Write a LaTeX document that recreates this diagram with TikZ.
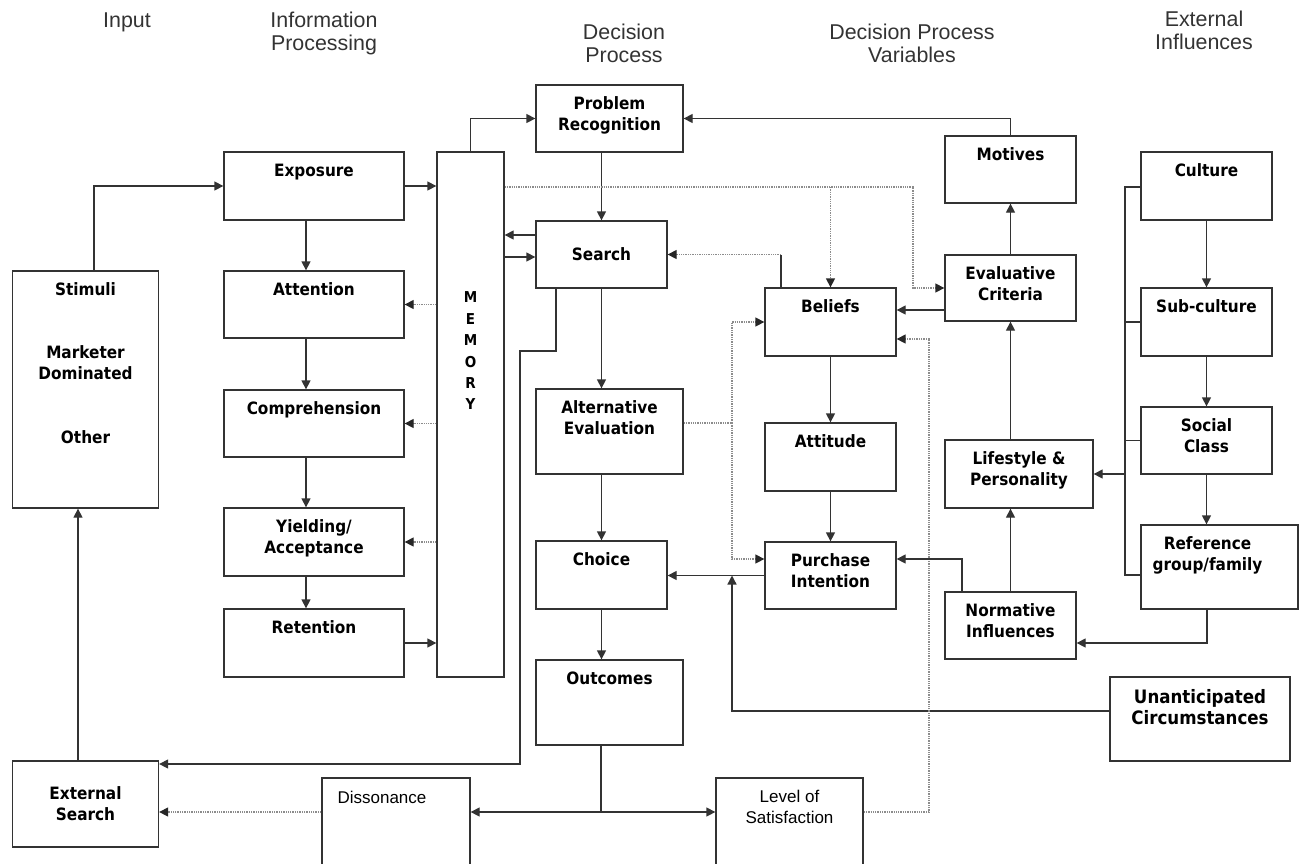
\documentclass[tikz,border=0pt]{standalone}
\usepackage{fontspec}
\setmainfont{Liberation Sans}
\newfontfamily\boxfont[FakeStretch=0.9]{DejaVu Sans}
\usetikzlibrary{arrows.meta}

\begin{document}
\begin{tikzpicture}[x=1pt, y=-1pt,
    blk/.style={draw=black!80, line width=1.3pt, inner sep=0pt},
    bfont/.style={font=\boxfont\bfseries\fontsize{17}{21}\selectfont, align=center},
    lbl/.style={bfont, anchor=north, yshift=-12.5pt, inner sep=0pt},
    thinlbl/.style={lbl, font=\fontsize{17}{21}\selectfont},
    hdr/.style={align=center, inner sep=0pt, text=black!80, font=\fontsize{21.4}{23}\selectfont},
    link/.style={draw=black!80, line width=1.3pt},
    arr/.style={link, -{Triangle[length=9pt, width=9pt]}},
    dlink/.style={draw=black!45, line width=1.3pt, densely dotted},
    darr/.style={dlink, -{Triangle[length=9pt, width=9pt, color=black!85]}}]

  \useasboundingbox (0,0) rectangle (1299,863);

  % column headings
  \node[hdr] (hInput) at (127,22) {Input};
  \node[hdr] (hInfo) at (324,33.5) {Information\\Processing};
  \node[hdr] (hDec) at (624,43.5) {Decision\\Process};
  \node[hdr] (hVar) at (912,43.5) {Decision Process\\Variables};
  \node[hdr] (hExt) at (1204,30.5) {External\\Influences};

  % input
  \node[blk, minimum width=146pt, minimum height=237pt, label={[lbl]north:{Stimuli\\[42pt]Marketer\\Dominated\\[43pt]Other}}] (stim) at (85.5,389.5) {};
  \node[blk, bfont, minimum width=146pt, minimum height=86pt] (ext) at (85.5,804) {External\\Search};

  % information processing
  \node[blk, minimum width=180pt, minimum height=68pt, label={[lbl]north:{Exposure}}] (exp) at (314,186) {};
  \node[blk, minimum width=180pt, minimum height=67pt, label={[lbl]north:{Attention}}] (att) at (314,304.5) {};
  \node[blk, minimum width=180pt, minimum height=67pt, label={[lbl]north:{Comprehension}}] (comp) at (314,423.5) {};
  \node[blk, minimum width=180pt, minimum height=68pt, label={[lbl]north:{Yielding/\\Acceptance}}] (yield) at (314,542) {};
  \node[blk, minimum width=180pt, minimum height=68pt, label={[lbl]north:{Retention}}] (ret) at (314,643) {};
  \node[blk, minimum width=67pt, minimum height=525pt, label={[lbl, yshift=-128pt, font=\boxfont\bfseries\fontsize{15}{21.4}\selectfont]north:{M\\E\\M\\O\\R\\Y}}] (mem) at (470.5,414.5) {};

  % decision process
  \node[blk, minimum width=147pt, minimum height=67pt, label={[lbl]north:{Problem\\Recognition}}] (pr) at (609.5,118.5) {};
  \node[blk, bfont, minimum width=131pt, minimum height=67pt] (search) at (601.5,254.5) {Search};
  \node[blk, minimum width=147pt, minimum height=85pt, label={[lbl]north:{Alternative\\Evaluation}}] (alt) at (609.5,431.5) {};
  \node[blk, minimum width=131pt, minimum height=68pt, label={[lbl]north:{Choice}}] (choice) at (601.5,575) {};
  \node[blk, minimum width=147pt, minimum height=85pt, label={[lbl]north:{Outcomes}}] (outc) at (609.5,702.5) {};
  \node[blk, minimum width=148pt, minimum height=88pt, label={[thinlbl, yshift=-1.5pt, xshift=-14pt]north:{Dissonance}}] (diss) at (396,822) {};
  \node[blk, minimum width=147pt, minimum height=88pt, label={[thinlbl]north:{Level of\\Satisfaction}}] (los) at (789.5,822) {};

  % decision process variables
  \node[blk, minimum width=131pt, minimum height=68pt, label={[lbl]north:{Beliefs}}] (bel) at (830.5,322) {};
  \node[blk, minimum width=131pt, minimum height=68pt, label={[lbl]north:{Attitude}}] (atti) at (830.5,457) {};
  \node[blk, minimum width=131pt, minimum height=67pt, label={[lbl]north:{Purchase\\Intention}}] (pi) at (830.5,575.5) {};
  \node[blk, minimum width=131pt, minimum height=67pt, label={[lbl]north:{Motives}}] (mot) at (1010.5,169.5) {};
  \node[blk, minimum width=131pt, minimum height=66pt, label={[lbl]north:{Evaluative\\Criteria}}] (ec) at (1010.5,288) {};
  \node[blk, minimum width=148pt, minimum height=68pt, label={[lbl]north:{Lifestyle \&\\Personality}}] (life) at (1019,474) {};
  \node[blk, minimum width=131pt, minimum height=67pt, label={[lbl]north:{Normative\\Influences}}] (norm) at (1010.5,625.5) {};
  \node[blk, minimum width=180pt, minimum height=84pt, label={[lbl, font=\boxfont\bfseries\fontsize{18.5}{21}\selectfont]north:{Unanticipated\\Circumstances}}] (unant) at (1200,719) {};

  % external influences
  \node[blk, minimum width=131pt, minimum height=68pt, label={[lbl]north:{Culture}}] (cult) at (1206.5,186) {};
  \node[blk, minimum width=131pt, minimum height=68pt, label={[lbl]north:{Sub-culture}}] (sub) at (1206.5,322) {};
  \node[blk, minimum width=131pt, minimum height=67pt, label={[lbl]north:{Social\\Class}}] (soc) at (1206.5,440.5) {};
  \node[blk, minimum width=157pt, minimum height=84pt, label={[lbl, xshift=-12pt]north:{Reference\\group/family}}] (ref) at (1219.5,567) {};

  % input links
  \draw[arr] ([xshift=-7.5pt]ext.north) -- ([xshift=-7.5pt]stim.south);
  \draw[arr] ([xshift=8.5pt]stim.north) |- (exp.west);

  % information processing links
  \foreach \a/\b in {exp/att, att/comp, comp/yield, yield/ret}
    \draw[arr] ([xshift=-8pt]\a.south) -- ([xshift=-8pt]\b.north);
  \draw[arr] (exp.east) -- (exp.east -| mem.west);
  \draw[arr] (ret.east) -- (ret.east -| mem.west);
  \foreach \n in {att, comp, yield}
    \draw[darr] (\n.east -| mem.west) -- (\n.east);

  % memory and search
  \draw[arr] (mem.north) |- (pr.west);
  \draw[arr] ([yshift=19.5pt]search.west) -- ([yshift=19.5pt]search.west -| mem.east);
  \draw[arr] ([yshift=-2.5pt]search.west -| mem.east) -- ([yshift=-2.5pt]search.west);

  % decision process links
  \draw[arr] (pr.south -| search.north) -- (search.north);
  \draw[arr] (search.south) -- (search.south |- alt.north);
  \draw[arr] (alt.south -| choice.north) -- (choice.north);
  \draw[arr] (choice.south) -- (choice.south |- outc.north);
  \coordinate (split) at (601,812);
  \draw[link] (outc.south -| split) -- (split);
  \draw[arr] (split) -- (split -| diss.east);
  \draw[arr] (split) -- (split -| los.west);
  \draw[darr] (split -| diss.west) -- (split -| ext.east);

  % search back to external search
  \coordinate (sbA) at (520,351);
  \coordinate (sbB) at (520,764);
  \draw[arr] ([xshift=-45.5pt]search.south) |- (sbA) -- (sbB) -- (sbB -| ext.east);

  % memory to beliefs and criteria
  \coordinate (dtop) at (913,187);
  \draw[darr] (dtop -| mem.east) -- (dtop) |- (ec.west);
  \draw[darr] (dtop -| bel.north) -- (bel.north);

  % beliefs, attitude, intention
  \draw[link] ([xshift=-49.5pt]bel.north) -- ([xshift=-49.5pt]bel.north |- search.east) coordinate (bsrch);
  \draw[darr] (bsrch) -- (search.east);
  \draw[arr] ([yshift=-22pt]ec.west) -- ([yshift=-22pt]ec.west -| bel.east);
  \draw[arr] (bel.south) -- (atti.north);
  \draw[arr] (atti.south) -- (pi.north);
  \coordinate (dalt) at (732,423);
  \draw[dlink] ([yshift=8.5pt]alt.east) -- (dalt);
  \draw[darr] (dalt) |- (bel.west);
  \draw[darr] (dalt) |- ([yshift=16.5pt]pi.west);
  \draw[arr] (pi.west) -- (pi.west -| choice.east);
  \draw[arr] ([yshift=8pt]unant.west) -| (dalt |- pi.west);
  \coordinate (dsat) at (929,339);
  \draw[darr] (split -| los.east) -| (dsat) -- (dsat -| bel.east);

  % variables links
  \draw[arr] ([xshift=-48.5pt]norm.north) |- ([yshift=16.5pt]pi.east);
  \draw[arr] (norm.north) -- (norm.north |- life.south);
  \draw[arr] (life.north -| ec.south) -- (ec.south);
  \draw[arr] (ec.north) -- (mot.south);
  \draw[arr] (mot.north) |- (pr.east);

  % external influences links
  \foreach \a/\b in {cult/sub, sub/soc}
    \draw[arr] (\a.south) -- (\b.north);
  \draw[arr] (soc.south) -- (soc.south |- ref.north);
  \coordinate (bus) at (1125,187);
  \draw[link] ([yshift=-8pt]ref.west) -| (bus) -- (bus -| cult.west);
  \foreach \n in {sub, soc}
    \draw[link] (\n.west) -- (\n.west -| bus);
  \draw[arr] (bus |- life.east) -- (life.east);
  \draw[arr] ([xshift=-12.5pt]ref.south) |- ([yshift=-17.5pt]norm.east);
\end{tikzpicture}
\end{document}
